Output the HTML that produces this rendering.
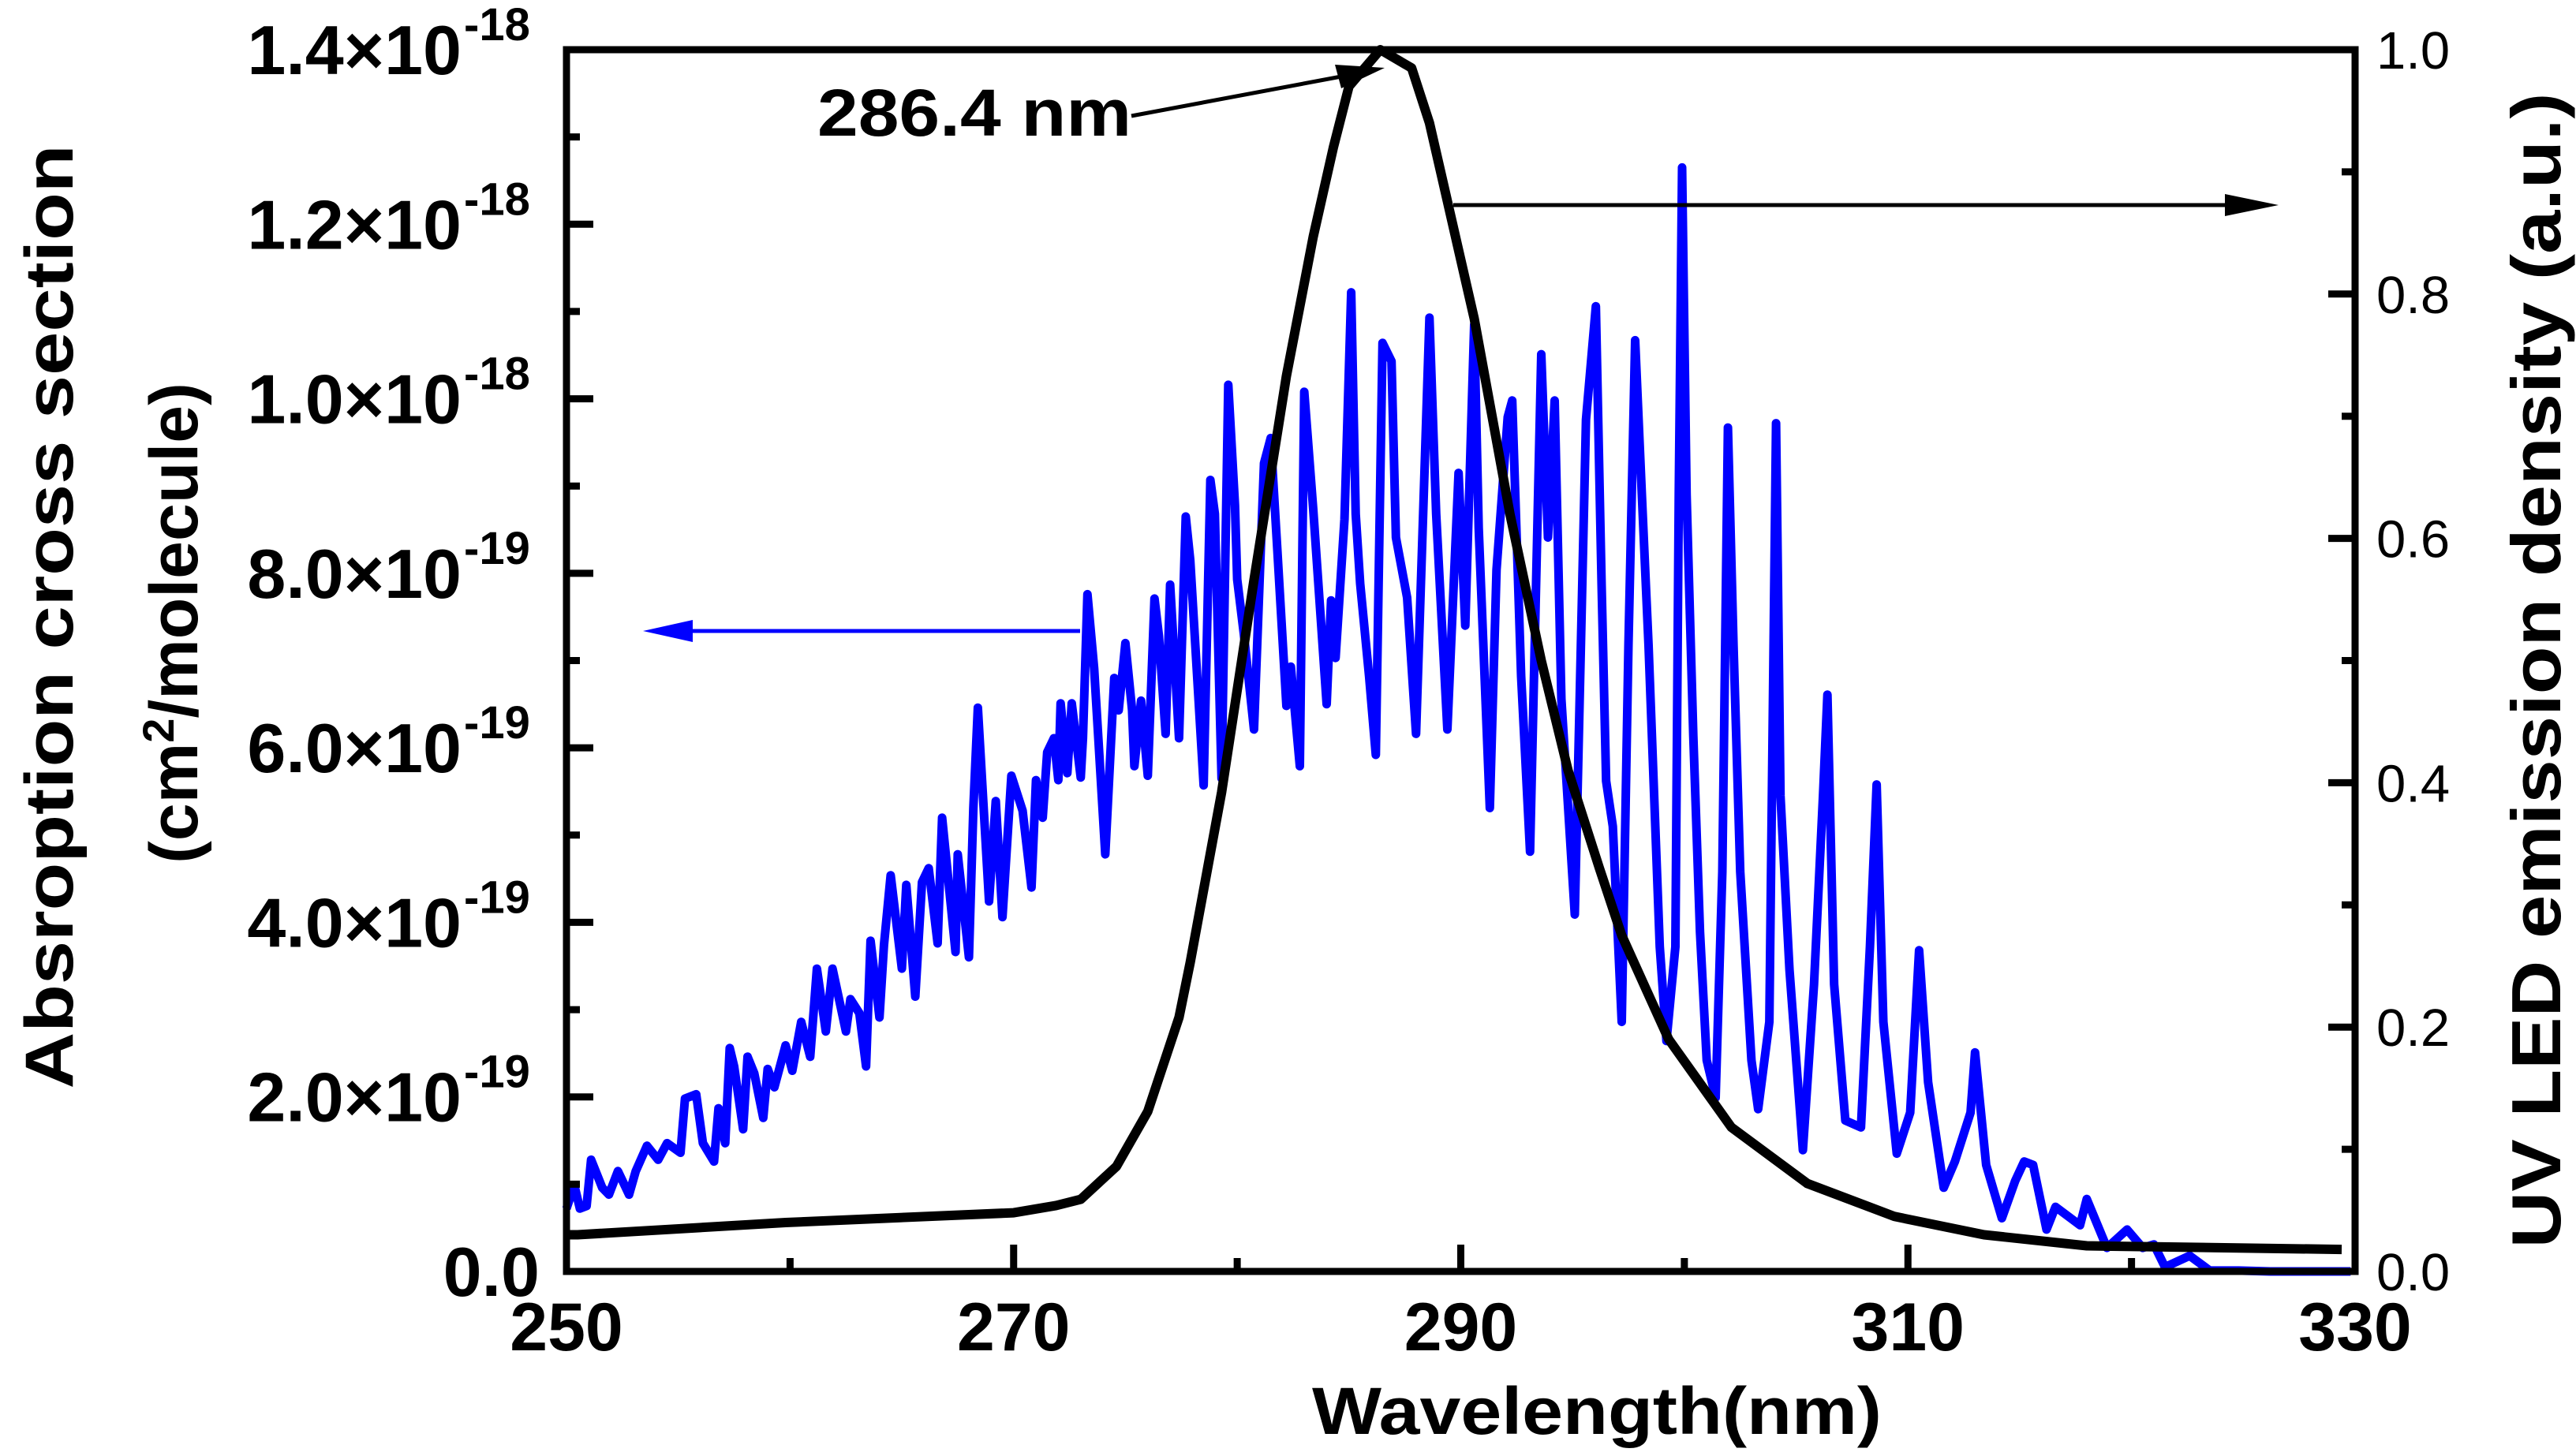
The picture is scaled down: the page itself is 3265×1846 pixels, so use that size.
<!DOCTYPE html>
<html><head><meta charset="utf-8"><style>
html,body{margin:0;padding:0;background:#fff;}
svg{display:block;font-family:"Liberation Sans",Arial,sans-serif;}
</style></head><body>
<svg id="chart" width="3265" height="1846" viewBox="0 0 3265 1846" xmlns="http://www.w3.org/2000/svg">
<rect width="3265" height="1846" fill="#fff"/>
<g id="marks"></g>
<g id="axes"></g>
</svg>
<script>
// ---- data ----
const absWl = [250,250.35,250.6,250.9,251.1,251.6,251.9,252.3,252.8,253.1,253.6,254.1,254.5,255.1,255.3,255.8,256.1,256.6,256.8,257.1,257.3,257.5,257.9,258.1,258.4,258.8,259.0,259.3,259.8,260.1,260.5,260.9,261.2,261.6,261.9,262.5,262.7,263.1,263.4,263.6,264.0,264.2,264.5,265.0,265.2,265.6,265.9,266.2,266.6,266.8,267.4,267.5,268.0,268.2,268.4,268.9,269.2,269.5,269.9,270.4,270.8,271.0,271.3,271.5,271.8,272.0,272.1,272.4,272.6,273.0,273.1,273.3,273.6,274.1,274.5,274.7,275.0,275.3,275.4,275.7,276.0,276.3,276.5,276.8,277.0,277.4,277.7,277.9,278.5,278.8,279.0,279.3,279.6,279.9,280.0,280.3,280.75,281.2,281.5,281.8,282.2,282.4,282.8,283.0,283.4,284.0,284.2,284.4,284.8,285.1,285.3,285.5,285.9,286.2,286.5,286.9,287.1,287.6,288.0,288.6,288.9,289.4,289.9,290.2,290.6,290.8,291.3,291.6,292.1,292.3,292.7,293.1,293.6,293.9,294.2,294.5,295.1,295.6,296.04,296.3,296.5,296.8,297.2,297.5,297.8,298.1,298.4,298.9,299.2,299.6,299.75,299.9,300.1,300.4,300.7,301.0,301.4,301.7,301.95,302.2,302.5,303.0,303.3,303.8,304.1,304.3,304.7,305.3,305.8,306.2,306.4,306.7,307.2,307.9,308.3,308.6,308.9,309.5,310.1,310.5,310.9,311.6,312.1,312.8,313.0,313.5,314.2,314.8,315.2,315.6,316.2,316.6,317.7,318.0,318.9,319.8,320.5,321.0,321.5,322.6,323.5,324.8,326.2,327.3,329.4,329.8];
const absVal = [0.72,0.99,0.72,0.75,1.28,0.96,0.88,1.15,0.88,1.15,1.44,1.28,1.47,1.36,1.98,2.03,1.47,1.26,1.87,1.47,2.56,2.35,1.63,2.46,2.27,1.76,2.32,2.11,2.59,2.30,2.86,2.46,3.47,2.75,3.47,2.75,3.12,2.96,2.35,3.79,2.91,3.74,4.54,3.47,4.43,3.15,4.46,4.62,3.76,5.20,3.66,4.78,3.60,5.31,6.46,4.24,5.39,4.06,5.68,5.28,4.40,5.63,5.20,5.95,6.11,5.63,6.51,5.71,6.51,5.66,6.11,7.76,6.91,4.78,6.80,6.43,7.20,6.43,5.79,6.54,5.68,7.71,7.28,6.16,7.87,6.11,8.65,8.15,5.57,9.07,8.68,5.65,10.16,8.78,7.93,7.30,6.21,9.26,9.55,8.25,6.48,6.93,5.79,10.08,8.73,6.50,7.69,7.03,8.62,11.22,8.68,7.88,6.82,5.92,10.64,10.43,8.41,7.72,6.16,10.93,8.68,6.21,9.15,7.40,10.85,8.52,5.31,8.04,9.79,9.98,6.82,4.81,10.51,8.41,9.98,6.56,4.09,9.76,11.06,7.86,5.62,5.10,2.86,7.17,10.67,8.9,7.17,3.72,2.64,3.72,8.9,12.65,8.9,6.14,3.89,2.42,1.99,4.58,9.67,7.17,4.58,2.42,1.86,2.86,9.72,5.45,3.46,1.39,3.29,5.45,6.61,3.29,1.73,1.65,3.72,5.58,2.86,1.35,1.82,3.68,2.17,0.96,1.26,1.82,2.51,1.22,0.61,1.04,1.26,1.22,0.48,0.74,0.53,0.83,0.27,0.48,0.27,0.31,0.05,0.18,0.01,0.01,0,0,0,0]; // ×1e-19
const ledWl = [250,250.5,259.8,270,271.9,273,274.6,276,277.4,277.9,279.3,280.75,282.2,283.4,284.3,285,286.4,287.8,288.6,289.35,290.6,292.2,293.6,294.8,296.2,297.2,299.3,302.1,305.5,309.4,313.4,318,329.4];
const ledVal = [0.030,0.030,0.040,0.048,0.054,0.059,0.086,0.131,0.208,0.253,0.392,0.566,0.733,0.847,0.92,0.97,1.0,0.985,0.94,0.88,0.78,0.62,0.50,0.41,0.33,0.275,0.19,0.118,0.072,0.045,0.030,0.021,0.018];
const xTicks = [250,270,290,310,330];
const leftTickVals = [0,2,4,6,8,10,12,14];
const leftTickMain = ["0.0","2.0\u00d710","4.0\u00d710","6.0\u00d710","8.0\u00d710","1.0\u00d710","1.2\u00d710","1.4\u00d710"];
const leftTickExp = ["","-19","-19","-19","-19","-18","-18","-18"];
const rightTicks = [0,0.2,0.4,0.6,0.8,1.0];

// ---- scales ----
const L=718,R=2985,T=63,B=1612;
const sx = w => L + (w-250)/80*(R-L);
const syL = v => B - v/14*(B-T);
const syR = v => B - v/1.0*(B-T);
const NS="http://www.w3.org/2000/svg";
const marks=document.getElementById('marks'), axes=document.getElementById('axes');
function mk(tag, attrs, parent){const e=document.createElementNS(NS,tag);for(const k in attrs)e.setAttribute(k,attrs[k]);parent.appendChild(e);return e;}

// blue absorption line
let d=absWl.map((w,i)=>(i?'L':'M')+sx(w).toFixed(1)+','+syL(absVal[i]).toFixed(1)).join('');
const bl=mk('path',{d:d,fill:'none',stroke:'#0000ff','stroke-width':11,'stroke-linejoin':'round'},marks);


// black LED line
d=ledWl.map((w,i)=>(i?'L':'M')+sx(w).toFixed(1)+','+syR(ledVal[i]).toFixed(1)).join('');
const kl=mk('path',{d:d,fill:'none',stroke:'#000','stroke-width':12,'stroke-linejoin':'round'},marks);



// frame
const fr=mk('rect',{x:L,y:T,width:R-L,height:B-T,fill:'none',stroke:'#000','stroke-width':9},axes);



// x ticks
for(let w=250;w<=330;w+=10){
  const maj=(w-250)%20===0;
  mk('line',{x1:sx(w),x2:sx(w),y1:B,y2:B-(maj?34:17),stroke:'#000','stroke-width':9},axes);
}
xTicks.forEach(w=>{
  const t=mk('text',{x:sx(w),y:1712,'text-anchor':'middle','font-size':86,'font-weight':'bold'},axes);
  t.textContent=w;
  
  
});
// left ticks
for(let v=0;v<=14;v+=1){
  const maj=v%2===0;
  mk('line',{x1:L,x2:L+(maj?34:17),y1:syL(v),y2:syL(v),stroke:'#000','stroke-width':9},axes);
}
leftTickVals.forEach((v,i)=>{
  const y=syL(v)+31;
  const t=mk('text',{x:leftTickExp[i]?585:684,y:y,'text-anchor':'end','font-size':88,'font-weight':'bold'},axes);
  t.textContent=leftTickMain[i];
  
  
  if(leftTickExp[i]){
    const s=mk('text',{x:588,y:syL(v)-12,'font-size':58,'font-weight':'bold'},axes);
    s.textContent=leftTickExp[i];
    
    
  }
});
// right ticks
for(let k=0;k<=10;k++){
  const v=k/10, maj=k%2===0;
  mk('line',{x1:R,x2:R-(maj?34:17),y1:syR(v),y2:syR(v),stroke:'#000','stroke-width':9},axes);
}
rightTicks.forEach(v=>{
  const t=mk('text',{x:3012,y:syR(v)+24,'font-size':67},axes);
  t.textContent=v.toFixed(1);
  
  
});
</script>
<svg style="position:absolute;left:0;top:0" width="3265" height="1846" viewBox="0 0 3265 1846" xmlns="http://www.w3.org/2000/svg" font-family="Liberation Sans, Arial, sans-serif">
<text x="2024" y="1818" text-anchor="middle" font-size="84" font-weight="bold" textLength="722" lengthAdjust="spacingAndGlyphs">Wavelength(nm)</text>
<text transform="translate(92,782) rotate(-90)" text-anchor="middle" font-size="86" font-weight="bold" textLength="1197" lengthAdjust="spacingAndGlyphs">Absroption cross section</text>
<text transform="translate(250,790) rotate(-90)" text-anchor="middle" font-size="86" font-weight="bold">(cm<tspan font-size="56" dy="-30">2</tspan><tspan dy="30">/molecule)</tspan></text>
<text transform="translate(3245,850) rotate(-90)" text-anchor="middle" font-size="88" font-weight="bold" textLength="1465" lengthAdjust="spacingAndGlyphs">UV LED emission density (a.u.)</text>
<text x="1036" y="172" font-size="84" font-weight="bold" textLength="398" lengthAdjust="spacingAndGlyphs">286.4 nm</text>
<g>
<line x1="1434" y1="147" x2="1700" y2="97" stroke="#000" stroke-width="5"/>
<polygon points="1755,86 1692,82 1700,112" fill="#000"/>
</g>
<g>
<line x1="1842" y1="260" x2="2830" y2="260" stroke="#000" stroke-width="5"/>
<polygon points="2888,260 2820,246 2820,274" fill="#000"/>
</g>
<g>
<line x1="1369" y1="800" x2="870" y2="800" stroke="#0000ff" stroke-width="5"/>
<polygon points="815,800 878,786 878,814" fill="#0000ff"/>
</g>
</svg>
</body></html>
